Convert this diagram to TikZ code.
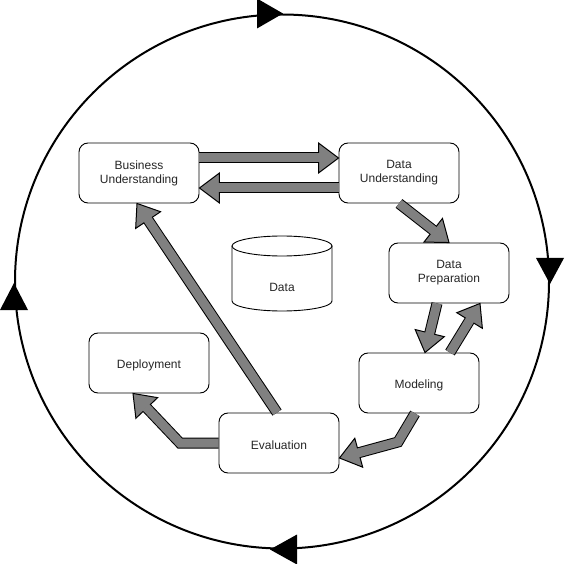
\documentclass[tikz,border=0pt]{standalone}
\usepackage{fontspec}
\setmainfont{Liberation Sans}
\usetikzlibrary{calc}
\newcommand\flexbent[3]{%
  \coordinate (fs) at #1;
  \coordinate (fm) at #2;
  \coordinate (fe) at #3;
  \coordinate (fh) at ($(fe)!20pt!(fm)$);
  \coordinate (fx) at ($(fe)!18.5pt!(fm)$);
  \draw[arrowout] (fs) -- (fm) -- (fh);
  \filldraw[arrowhead] ($(fh)!15pt!90:(fe)$) -- (fe) -- ($(fh)!15pt!-90:(fe)$) -- cycle;
  \draw[arrowin] (fs) -- (fm) -- (fx);
}
\newcommand\flexstraight[2]{%
  \coordinate (fs) at #1;
  \coordinate (fe) at #2;
  \coordinate (fm) at ($(fs)!0.5!(fe)$);
  \coordinate (fh) at ($(fe)!20pt!(fm)$);
  \coordinate (fx) at ($(fe)!18.5pt!(fm)$);
  \draw[arrowout] (fs) -- (fh);
  \filldraw[arrowhead] ($(fh)!15pt!90:(fe)$) -- (fe) -- ($(fh)!15pt!-90:(fe)$) -- cycle;
  \draw[arrowin] (fs) -- (fx);
}
\begin{document}
\begin{tikzpicture}[x=1pt,y=-1pt,
  box/.style={draw=black, line width=0.9pt, rounded corners=9pt, minimum width=120pt, minimum height=60pt, fill=white, align=center, font=\fontsize{12}{14}\selectfont, text=black!85, execute at begin node={\rule{0pt}{13pt}}},
  arrowout/.style={line width=11pt, draw=black, line join=miter},
  arrowin/.style={line width=9pt, draw=gray, line join=miter},
  arrowhead/.style={fill=gray, draw=black, line width=1pt, line join=miter},
  tri/.style={fill=black}]
\useasboundingbox (0,0) rectangle (565,564);
\fill[white] (0,0) rectangle (565,564);
% outer cycle
\node[circle, draw=black, line width=2pt, minimum size=534pt, inner sep=0pt] (cyc) at (282,281.5) {};
\fill[tri] ([xshift=1pt]cyc.north) -- ([xshift=-25pt,yshift=15pt]cyc.north) -- ([xshift=-25pt,yshift=-15pt]cyc.north) -- cycle;
\fill[tri] ([yshift=-2.5pt]cyc.east) -- ([xshift=-14pt,yshift=23.5pt]cyc.east) -- ([xshift=14pt,yshift=23.5pt]cyc.east) -- cycle;
\fill[tri] ([xshift=-12pt]cyc.south) -- ([xshift=15pt,yshift=15pt]cyc.south) -- ([xshift=15pt,yshift=-15pt]cyc.south) -- cycle;
\fill[tri] ([yshift=-1.5pt]cyc.west) -- ([xshift=-14pt,yshift=-28.5pt]cyc.west) -- ([xshift=14pt,yshift=-28.5pt]cyc.west) -- cycle;
% boxes
\node[box] (bu) at (139,173) {Business\\Understanding};
\node[box] (du) at (399,173) {Data\\Understanding};
\node[box] (dp) at (449,273) {Data\\Preparation};
\node[box] (mod) at (419,383) {Modeling};
\node[box] (ev) at (279,443) {Evaluation};
\node[box] (dep) at (149,363) {Deployment};
% data cylinder
\draw[line width=0.9pt, fill=white] (232,246) -- (232,301) .. controls (232,306.5) and (254.4,311) .. (282,311) .. controls (309.6,311) and (332,306.5) .. (332,301) -- (332,246);
\draw[line width=0.9pt, fill=white] (282,246) ellipse [x radius=50, y radius=10];
\node[font=\fontsize{12}{14}\selectfont, text=black!85] (data) at (282,287) {Data};
% block arrows
\flexstraight{($(bu.east)+(0,15pt)$)}{($(du.west)+(0,15pt)$)}
\flexstraight{($(du.west)+(0,-15pt)$)}{($(bu.east)+(0,-15pt)$)}
\flexstraight{(du.south)}{(dp.north)}
\flexstraight{($(dp.south)+(-12pt,0)$)}{($(mod.north)+(6pt,0)$)}
\flexstraight{($(mod.north)+(31pt,0)$)}{($(dp.south)+(31pt,0)$)}
\coordinate (bend1) at (398,442);
\flexbent{($(mod.south)+(-4pt,0)$)}{(bend1)}{($(ev.east)+(0,-15pt)$)}
\coordinate (bend2) at (180,443);
\flexbent{(ev.west)}{(bend2)}{($(dep.south)+(-16pt,0)$)}
\flexstraight{($(ev.north)+(-2pt,0)$)}{($(bu.south)+(-2pt,0)$)}
\end{tikzpicture}
\end{document}
